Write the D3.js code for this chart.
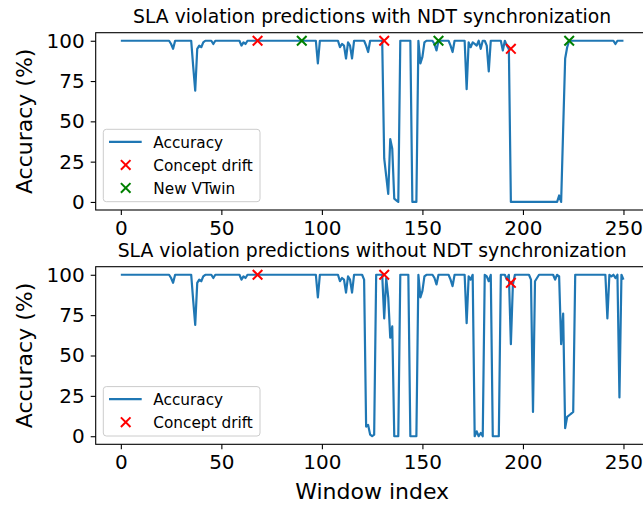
<!DOCTYPE html>
<html>
<head>
<meta charset="utf-8">
<script src="https://cdn.jsdelivr.net/npm/d3@7"></script>
<style>
  html, body { margin: 0; padding: 0; background: #ffffff; }
  svg { display: block; font-family: "DejaVu Sans", sans-serif; }
</style>
</head>
<body>
<svg id="chart" width="643" height="506"></svg>
<script>
// Window indices run 0..250; accuracy (%) per window.
const accuracyWithSync = [
  100,100,100,100,100,100,100,100,100,100,
  100,100,100,100,100,100,100,100,100,100,
  100,100,100,100,100,98,95,100,100,100,
  100,100,100,100,100,100,84,69,95,97,
  96,99,100,100,100,100,98,100,100,100,
  100,100,100,100,100,100,100,100,100,100,
  97,99,98,100,100,100,100,100,100,100,
  100,100,100,100,100,100,100,100,100,100,
  100,100,100,100,100,100,100,100,100,100,
  100,100,100,100,100,100,100,100,86,100,
  100,100,100,100,100,100,100,100,100,96,
  98,97,89,99,97,89,100,100,100,100,
  100,100,97,93,100,100,100,100,100,100,
  100,27,16,5,39,33,2,1,0,100,
  100,100,100,100,100,0,0,0,100,86,
  90,99,100,100,100,100,98,94,100,100,
  100,100,100,100,97,93,100,100,100,100,
  100,100,70,99,96,99,98,97,100,95,
  100,100,97,81,100,100,100,100,100,100,
  94,100,97,95,0,0,0,0,0,0,
  0,0,0,0,0,0,0,0,0,0,
  0,0,0,0,0,0,0,0,4,0,
  45,89,96,100,100,100,100,100,100,100,
  100,100,100,100,100,100,100,100,100,100,
  100,100,100,100,100,100,98,100,100,100,
  100
];

const accuracyWithoutSync = [
  100,100,100,100,100,100,100,100,100,100,
  100,100,100,100,100,100,100,100,100,100,
  100,100,100,100,100,98,95,100,100,100,
  100,100,100,100,100,100,84,69,95,97,
  96,99,100,100,100,100,98,100,100,100,
  100,100,100,100,100,100,100,100,100,100,
  97,99,98,100,100,100,100,100,100,100,
  100,100,100,100,100,100,100,100,100,100,
  100,100,100,100,100,100,100,100,100,100,
  100,100,100,100,100,100,100,100,86,100,
  100,100,100,100,100,100,100,100,100,96,
  98,97,89,99,97,89,100,100,100,100,
  100,97,6,7,1,0,1,100,100,100,
  100,73,98,86,61,68,0,0,0,100,
  100,100,100,100,0,0,0,0,100,86,
  90,99,100,100,100,100,98,94,100,100,
  100,100,100,100,97,93,100,100,100,100,
  100,100,70,99,97,100,0,3,0,2,
  0,100,99,96,100,0,0,0,0,100,
  100,100,97,100,57,94,100,100,100,100,
  100,100,100,100,97,15,96,98,100,100,
  100,100,100,100,100,100,97,100,99,57,
  76,5,12,13,14,15,100,100,100,100,
  100,100,100,100,100,100,100,100,100,100,
  100,100,73,100,99,100,98,100,24,100,
  97
];

// Concept drift events and new VTwin instantiations
const driftWindowsTop = [68, 131, 194];
const driftAccuracyTop = [100, 100, 95];
const vtwinWindows = [90, 158, 223];
const vtwinAccuracy = [100, 100, 100];
const driftWindowsBottom = [68, 131, 194];
const driftAccuracyBottom = [100, 100, 95];

const xTicks = [0, 50, 100, 150, 200, 250];
const yTicks = [0, 25, 50, 75, 100];

const titles = [
  "SLA violation predictions with NDT synchronization",
  "SLA violation predictions without NDT synchronization"
];
const yLabel = "Accuracy (%)";
const xLabel = "Window index";

const svg = d3.select("#chart");
const FONT = "DejaVu Sans";

const axLeft = 95.7, axRight = 648.6;
const x = d3.scaleLinear().domain([-12.5, 262.5]).range([axLeft, axRight]);

function drawMarkerX(g, xs, ys, yScale, color) {
  g.selectAll(null)
    .data(xs.map((w, i) => [w, ys[i]]))
    .enter().append("path")
    .attr("d", d => {
      const cx = x(d[0]), cy = yScale(d[1]), r = 4.8;
      return `M${cx - r},${cy - r}L${cx + r},${cy + r}M${cx - r},${cy + r}L${cx + r},${cy - r}`;
    })
    .attr("stroke", color)
    .attr("stroke-width", 2)
    .attr("fill", "none");
}

function drawPanel(opts) {
  const { top, bottom, values, title, markers, legendItems } = opts;
  const y = d3.scaleLinear().domain([-5, 105]).range([bottom, top]);
  const g = svg.append("g");

  // accuracy line
  g.append("path")
    .datum(values)
    .attr("fill", "none")
    .attr("stroke", "#1f77b4")
    .attr("stroke-width", 2.2)
    .attr("stroke-linejoin", "round")
    .attr("d", d3.line().x((d, i) => x(i)).y(d => y(d)));

  markers.forEach(m => drawMarkerX(g, m.xs, m.ys, y, m.color));

  // axes frame
  g.append("rect")
    .attr("x", axLeft).attr("y", top)
    .attr("width", axRight - axLeft).attr("height", bottom - top)
    .attr("fill", "none").attr("stroke", "#000").attr("stroke-width", 1.1);

  const xa = g.append("g").attr("transform", `translate(0,${bottom})`)
    .call(d3.axisBottom(x).tickValues(xTicks).tickSize(5).tickPadding(5.5).tickSizeOuter(0));
  const ya = g.append("g").attr("transform", `translate(${axLeft},0)`)
    .call(d3.axisLeft(y).tickValues(yTicks).tickSize(5).tickPadding(6).tickSizeOuter(0));
  [xa, ya].forEach(a => {
    a.select(".domain").remove();
    a.selectAll("line").attr("stroke", "#000").attr("stroke-width", 1.1);
    a.selectAll("text").attr("font-family", FONT).attr("font-size", 20).attr("fill", "#000");
  });

  // title
  g.append("text")
    .attr("x", (axLeft + axRight) / 2).attr("y", top - 9.3)
    .attr("text-anchor", "middle")
    .attr("font-family", FONT).attr("font-size", 18.8).attr("fill", "#000")
    .text(title);

  // y label
  const cy = (top + bottom) / 2;
  g.append("text")
    .attr("transform", `translate(31.5,${cy}) rotate(-90)`)
    .attr("text-anchor", "middle")
    .attr("font-family", FONT).attr("font-size", 22).attr("fill", "#000")
    .text(yLabel);

  // legend, anchored to the lower-left corner of the axes
  const lx = axLeft + 7.6;
  const rowH = 23;
  const lh = 26.4 + rowH * (legendItems.length - 1);
  const ly = bottom - 8.3 - lh;
  const lg = g.append("g");
  lg.append("rect")
    .attr("x", lx).attr("y", ly).attr("width", 156.7).attr("height", lh)
    .attr("rx", 3).attr("ry", 3)
    .attr("fill", "#ffffff").attr("fill-opacity", 0.8)
    .attr("stroke", "#cccccc").attr("stroke-width", 1);
  legendItems.forEach((item, i) => {
    const ry = ly + 12.6 + i * rowH;
    if (item.type === "line") {
      lg.append("line")
        .attr("x1", lx + 5.7).attr("x2", lx + 38.4)
        .attr("y1", ry).attr("y2", ry)
        .attr("stroke", "#1f77b4").attr("stroke-width", 2.2);
    } else {
      const cxm = lx + 22.4, r = 4.8;
      lg.append("path")
        .attr("d", `M${cxm - r},${ry - r}L${cxm + r},${ry + r}M${cxm - r},${ry + r}L${cxm + r},${ry - r}`)
        .attr("stroke", item.color).attr("stroke-width", 2).attr("fill", "none");
    }
    lg.append("text")
      .attr("x", lx + 50).attr("y", ry + 6.0)
      .attr("font-family", FONT).attr("font-size", 15.3).attr("fill", "#000")
      .text(item.label);
  });
}

drawPanel({
  top: 32.7, bottom: 210,
  values: accuracyWithSync,
  title: titles[0],
  markers: [
    { xs: driftWindowsTop, ys: driftAccuracyTop, color: "#ff0000" },
    { xs: vtwinWindows, ys: vtwinAccuracy, color: "#008000" }
  ],
  legendItems: [
    { type: "line", label: "Accuracy" },
    { type: "x", color: "#ff0000", label: "Concept drift" },
    { type: "x", color: "#008000", label: "New VTwin" }
  ]
});

drawPanel({
  top: 266.7, bottom: 444.3,
  values: accuracyWithoutSync,
  title: titles[1],
  markers: [
    { xs: driftWindowsBottom, ys: driftAccuracyBottom, color: "#ff0000" }
  ],
  legendItems: [
    { type: "line", label: "Accuracy" },
    { type: "x", color: "#ff0000", label: "Concept drift" }
  ]
});

// shared x label
svg.append("text")
  .attr("x", (axLeft + axRight) / 2).attr("y", 499)
  .attr("text-anchor", "middle")
  .attr("font-family", FONT).attr("font-size", 22).attr("fill", "#000")
  .text(xLabel);
</script>
</body>
</html>
